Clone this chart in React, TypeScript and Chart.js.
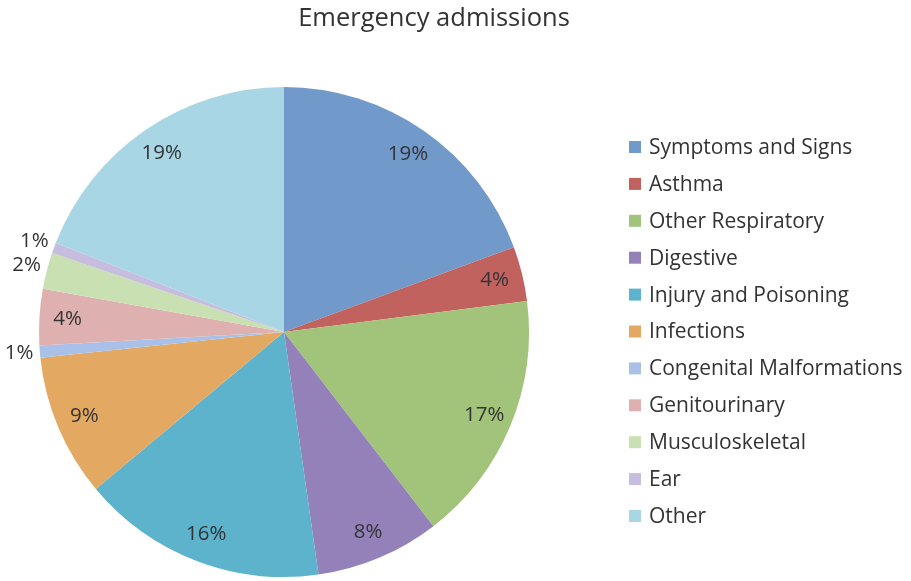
import React, { useEffect, useRef } from "react";
import { Chart, registerables } from "chart.js";

Chart.register(...registerables);

const title = "Emergency admissions";
const categories = [
  "Symptoms and Signs",
  "Asthma",
  "Other Respiratory",
  "Digestive",
  "Injury and Poisoning",
  "Infections",
  "Congenital Malformations",
  "Genitourinary",
  "Musculoskeletal",
  "Ear",
  "Other",
];
const values = [19.4, 3.6, 16.6, 8.2, 16.2, 9.4, 0.8, 3.7, 2.4, 0.7, 19.1];
const colors = [
  "#7199ca",
  "#c2625f",
  "#a2c47a",
  "#9581b9",
  "#5db3cc",
  "#e3a862",
  "#a9c1e9",
  "#deb0b0",
  "#c9e0b3",
  "#c6bddf",
  "#a9d6e5",
];

const FONT = "'Open Sans', 'Lato', sans-serif";
const TEXT = "#333333";

const overlay = {
  id: "overlay",
  afterDraw(chart: any) {
    const ctx = chart.ctx;
    ctx.save();
    // title
    ctx.fillStyle = TEXT;
    ctx.font = `25.5px ${FONT}`;
    ctx.textAlign = "center";
    ctx.textBaseline = "middle";
    ctx.fillText(title, 434, 19);

    // percent labels
    const meta = chart.getDatasetMeta(0);
    const data = chart.data.datasets[0].data as number[];
    const total = data.reduce((a, b) => a + b, 0);
    ctx.font = `20.5px ${FONT}`;
    meta.data.forEach((arc: any, i: number) => {
      const p = arc.getProps(["x", "y", "startAngle", "endAngle", "outerRadius"], true);
      const mid = (p.startAngle + p.endAngle) / 2;
      const pct = (data[i] / total) * 100;
      const r = pct < 3 ? p.outerRadius * 1.085 : p.outerRadius * 0.885;
      const x = p.x + Math.cos(mid) * r;
      const y = p.y + Math.sin(mid) * r;
      ctx.fillText(Math.round(pct) + "%", x, y);
    });

    // legend
    const labels = chart.data.labels as string[];
    const bg = chart.data.datasets[0].backgroundColor as string[];
    ctx.textAlign = "left";
    ctx.font = `21px ${FONT}`;
    labels.forEach((lab, i) => {
      const cy = 147 + i * 36.9;
      ctx.fillStyle = bg[i];
      ctx.fillRect(629, cy - 6, 12, 12);
      ctx.fillStyle = TEXT;
      ctx.fillText(lab, 649, cy + 1);
    });
    ctx.restore();
  },
};

export default function App() {
  const ref = useRef<HTMLCanvasElement>(null);
  useEffect(() => {
    document.body.style.margin = "0";
    const chart = new Chart(ref.current!, {
      type: "pie",
      data: {
        labels: categories,
        datasets: [
          {
            data: values,
            backgroundColor: colors,
            borderWidth: 0,
          },
        ],
      },
      options: {
        responsive: false,
        animation: false,
        layout: { padding: { left: 39, right: 382, top: 87, bottom: 4 } },
        plugins: {
          legend: { display: false },
          title: { display: false },
          tooltip: { enabled: false },
        },
      },
      plugins: [overlay],
    });
    return () => chart.destroy();
  }, []);
  return (
    <div style={{ width: 911, height: 581, background: "#fff" }}>
      <canvas ref={ref} width={911} height={581} />
    </div>
  );
}
